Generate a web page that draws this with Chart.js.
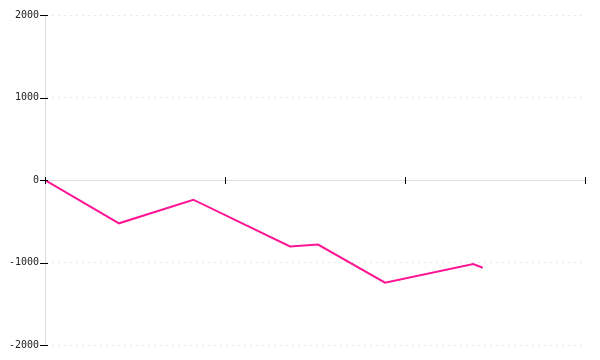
<!DOCTYPE html>
<html>
<head>
<meta charset="utf-8">
<script src="https://cdn.jsdelivr.net/npm/chart.js@4"></script>
<style>
html,body{margin:0;padding:0;background:#fff;}
#wrap{width:600px;height:360px;}
</style>
</head>
<body>
<div id="wrap"><canvas id="c" width="600" height="360"></canvas></div>
<script>
const xValues = [0, 4.11, 8.24, 13.61, 15.17, 18.89, 23.79, 24.32];
const yValues = [0, -525, -239, -806, -782, -1245, -1018, -1063];
const yTicks = [-2000, -1000, 0, 1000, 2000];
const xTicks = [0, 10, 20, 30];

const crossTicks = {
  id: 'crossTicks',
  afterDraw(chart) {
    const ctx = chart.ctx;
    const xs = chart.scales.x, ys = chart.scales.y;
    const y0 = ys.getPixelForValue(0);
    const x0 = xs.getPixelForValue(0);
    ctx.save();
    ctx.strokeStyle = '#000';
    ctx.lineWidth = 1;
    ctx.beginPath();
    xTicks.forEach(v => {
      const px = Math.round(xs.getPixelForValue(v)) + 0.5;
      ctx.moveTo(px, y0 - 3);
      ctx.lineTo(px, y0 + 4);
    });
    yTicks.forEach(v => {
      const py = Math.round(ys.getPixelForValue(v)) + 0.5;
      ctx.moveTo(x0 - 5, py);
      ctx.lineTo(x0 + 3, py);
    });
    ctx.stroke();
    ctx.restore();
  }
};

new Chart(document.getElementById('c'), {
  type: 'line',
  data: {
    datasets: [{
      data: xValues.map((x, i) => ({x: x, y: yValues[i]})),
      borderColor: '#ff1493',
      borderWidth: 2,
      pointRadius: 0,
      tension: 0,
      fill: false
    }]
  },
  options: {
    responsive: false,
    animation: false,
    layout: {padding: {top: 15, right: 15, bottom: 15, left: 0}},
    plugins: {legend: {display: false}, tooltip: {enabled: false}},
    scales: {
      x: {
        type: 'linear',
        min: 0, max: 30,
        position: {y: 0},
        afterBuildTicks: s => { s.ticks = xTicks.map(v => ({value: v})); },
        ticks: {display: false},
        grid: {display: false, drawTicks: false},
        border: {display: true, color: '#dddddd', width: 1}
      },
      y: {
        min: -2000, max: 2000,
        afterBuildTicks: s => { s.ticks = yTicks.map(v => ({value: v})); },
        afterFit: s => { s.width = 45; },
        ticks: {
          color: '#222',
          padding: 6,
          font: {family: 'DejaVu Sans Mono', size: 10},
          callback: v => String(v)
        },
        grid: {
          color: '#e8e8e8',
          drawTicks: false,
          lineWidth: 1
        },
        border: {display: true, color: '#dddddd', dash: [2, 4], dashOffset: 0}
      }
    }
  },
  plugins: [crossTicks]
});
</script>
</body>
</html>
